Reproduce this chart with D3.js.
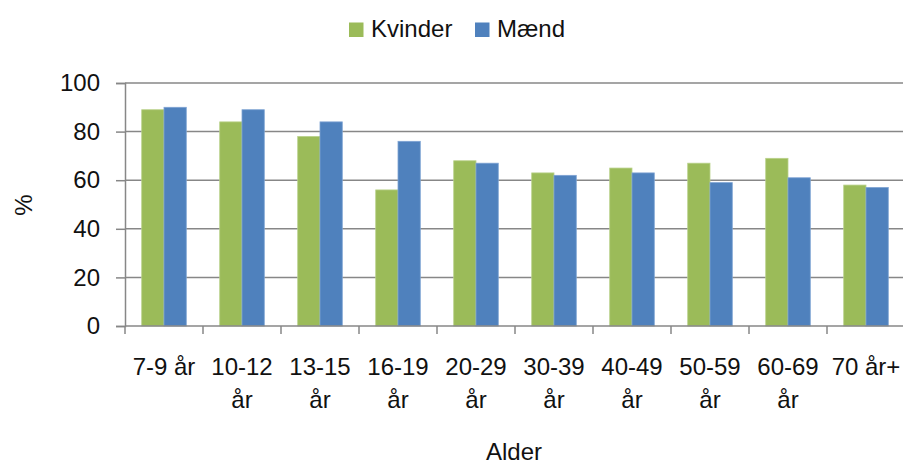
<!DOCTYPE html>
<html>
<head>
<meta charset="utf-8">
<script src="https://cdn.jsdelivr.net/npm/d3@7"></script>
<style>
    body { margin: 0; background: #fff; }
    text { font-family: "Liberation Sans", Arial, sans-serif; fill: #111; }
</style>
</head>
<body>
<div id="chart"></div>
<script>
const ageGroups = ["7-9 år", "10-12 år", "13-15 år", "16-19 år", "20-29 år", "30-39 år", "40-49 år", "50-59 år", "60-69 år", "70 år+"];
const seriesNames = ["Kvinder", "Mænd"];
const kvinder = [89, 84, 78, 56, 68, 63, 65, 67, 69, 58];
const maend = [90, 89, 84, 76, 67, 62, 63, 59, 61, 57];
const yTicks = [0, 20, 40, 60, 80, 100];

const width = 903;
const height = 464;
const margin = { 'top': 83, 'right': -2, 'bottom': 138, 'left': 125 };
const graphWidth = width - margin.left - margin.right;
const graphHeight = height - margin.top - margin.bottom;

const colors = { "Kvinder": "#9bbb59", "Mænd": "#4f81bd" };
const borders = { "Kvinder": "#b9d18a", "Mænd": "#7ea3d3" };
const gridColor = "#878787";

const data = ageGroups.map((g, i) => ({ group: g, values: [
    { key: "Kvinder", value: kvinder[i] },
    { key: "Mænd", value: maend[i] }
] }));

const svg = d3.select('#chart')
    .append('svg')
    .attr('width', width)
    .attr('height', height);

const graph = svg.append('g')
    .attr('transform', `translate(${margin.left}, ${margin.top})`);

const x0 = d3.scaleBand()
    .domain(ageGroups)
    .range([0, graphWidth])
    .padding(0);

const x1 = d3.scaleBand()
    .domain(seriesNames)
    .range([0, x0.bandwidth()])
    .paddingInner(0)
    .paddingOuter(0.75);

const y = d3.scaleLinear()
    .domain([0, 100])
    .range([graphHeight, 0]);

// gridlines
graph.append('g')
    .selectAll('line')
    .data(yTicks.filter(d => d > 0))
    .enter()
    .append('line')
    .attr('x1', 0)
    .attr('x2', graphWidth)
    .attr('y1', d => y(d))
    .attr('y2', d => y(d))
    .attr('stroke', gridColor)
    .attr('stroke-width', 1.5);

// bars
const groups = graph.selectAll('.grp')
    .data(data)
    .enter()
    .append('g')
    .attr('class', 'grp')
    .attr('transform', d => `translate(${x0(d.group)}, 0)`);

groups.selectAll('rect')
    .data(d => d.values)
    .enter()
    .append('rect')
    .attr('x', d => x1(d.key))
    .attr('y', d => y(d.value))
    .attr('width', x1.bandwidth())
    .attr('height', d => graphHeight - y(d.value))
    .attr('fill', d => colors[d.key])
    .attr('stroke', d => borders[d.key])
    .attr('stroke-width', 0.8);

// y axis
const yAxis = d3.axisLeft(y)
    .tickValues(yTicks)
    .tickSize(9)
    .tickPadding(16);

const gYAxis = graph.append('g').call(yAxis);
gYAxis.select('.domain').attr('stroke', gridColor).attr('stroke-width', 1.5);
gYAxis.selectAll('.tick line').attr('stroke', gridColor).attr('stroke-width', 1.5);
gYAxis.selectAll('text')
    .style('font-size', '24px')
    .style('font-family', '"Liberation Sans", Arial, sans-serif')
    .attr('fill', '#111');

// x axis
const xTickVals = ageGroups.slice(1);
const xAxis = d3.axisBottom(x0)
    .tickSize(0)
    .tickPadding(32);

const gXAxis = graph.append('g')
    .attr('transform', `translate(0, ${graphHeight})`)
    .call(xAxis);
gXAxis.select('.domain').remove();

graph.append('line')
    .attr('x1', 0)
    .attr('x2', graphWidth)
    .attr('y1', graphHeight)
    .attr('y2', graphHeight)
    .attr('stroke', gridColor)
    .attr('stroke-width', 1.5);

// category separator ticks
graph.append('g')
    .selectAll('line')
    .data(ageGroups)
    .enter()
    .append('line')
    .attr('x1', d => x0(d))
    .attr('x2', d => x0(d))
    .attr('y1', graphHeight)
    .attr('y2', graphHeight + 8)
    .attr('stroke', gridColor)
    .attr('stroke-width', 1.5);

gXAxis.selectAll('text')
    .style('font-size', '24px')
    .style('font-family', '"Liberation Sans", Arial, sans-serif')
    .attr('fill', '#111')
    .call(wrap, x0.bandwidth() - 4);

function wrap(texts, w) {
    texts.each(function () {
        const text = d3.select(this);
        const words = text.text().split(/\s+/);
        const yy = text.attr('y');
        const dy = parseFloat(text.attr('dy'));
        let line = [];
        let lineNumber = 0;
        let tspan = text.text(null).append('tspan').attr('x', 0).attr('y', yy).attr('dy', dy + 'em');
        words.forEach(word => {
            line.push(word);
            tspan.text(line.join(' '));
            if (tspan.node().getComputedTextLength() > w && line.length > 1) {
                line.pop();
                tspan.text(line.join(' '));
                line = [word];
                tspan = text.append('tspan').attr('x', 0).attr('y', yy)
                    .attr('dy', (++lineNumber * 1.38 + dy) + 'em').text(word);
            }
        });
    });
}

// axis titles
svg.append('text')
    .attr('x', 514)
    .attr('y', 460)
    .attr('text-anchor', 'middle')
    .style('font-size', '24px')
    .text('Alder');

svg.append('text')
    .attr('transform', 'translate(32, 205) rotate(-90)')
    .attr('text-anchor', 'middle')
    .style('font-size', '24px')
    .text('%');

// legend
const legend = svg.append('g');
const legendX = [349, 475];
seriesNames.forEach((name, i) => {
    legend.append('rect')
        .attr('x', legendX[i])
        .attr('y', 22.5)
        .attr('width', 14.5)
        .attr('height', 14.5)
        .attr('fill', colors[name]);
    legend.append('text')
        .attr('x', legendX[i] + 22)
        .attr('y', 37)
        .style('font-size', '24px')
        .text(name);
});
</script>
</body>
</html>
